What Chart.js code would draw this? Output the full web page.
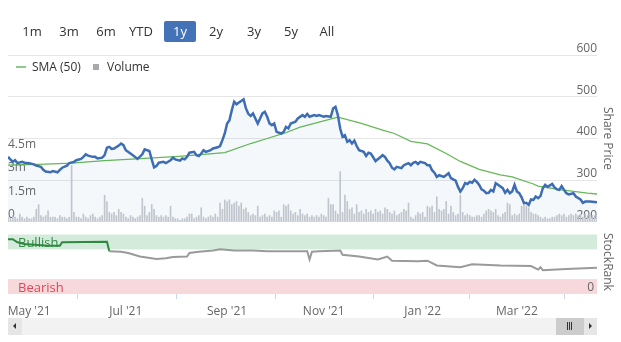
<!DOCTYPE html>
<html><head><meta charset="utf-8">
<script src="https://cdn.jsdelivr.net/npm/chart.js@4/dist/chart.umd.min.js"></script>
<style>
html,body{margin:0;padding:0;background:#fff;}
body{width:621px;height:342px;position:relative;overflow:hidden;font-family:'Open Sans',sans-serif;}
#c{position:absolute;left:0;top:0;}
.btn{position:absolute;top:21px;width:32px;height:21px;line-height:21px;font-size:13px;color:#333;text-align:center;}
.btn.sel{background:#4472b6;color:#fff;border-radius:2px;}
.lt{position:absolute;top:59px;font-size:12px;line-height:16px;color:#333;white-space:nowrap;}
.vt{position:absolute;writing-mode:vertical-rl;font-size:12px;line-height:14px;color:#666;white-space:nowrap;}
.abs{position:absolute;}
</style></head>
<body>
<canvas id="c" width="621" height="342"></canvas>
<div class="btn" style="left:16px">1m</div>
<div class="btn" style="left:53px">3m</div>
<div class="btn" style="left:90px">6m</div>
<div class="btn" style="left:125px">YTD</div>
<div class="btn sel" style="left:164px">1y</div>
<div class="btn" style="left:200px">2y</div>
<div class="btn" style="left:238px">3y</div>
<div class="btn" style="left:275px">5y</div>
<div class="btn" style="left:311px">All</div>
<div class="abs" style="left:16px;top:66px;width:10px;height:2px;background:#8cc98a"></div>
<div class="lt" style="left:32px">SMA (50)</div>
<div class="abs" style="left:93px;top:64px;width:6px;height:6px;background:#a8a8ae"></div>
<div class="lt" style="left:107px">Volume</div>
<div class="vt" style="left:601px;top:107px">Share Price</div>
<div class="vt" style="left:601px;top:233px">StockRank</div>
<div class="abs" style="left:8px;top:318px;width:589px;height:17px;background:#f2f2f2"></div>
<div class="abs" style="left:8px;top:318px;width:14px;height:17px;background:#e6e6e6"></div>
<div class="abs" style="left:13px;top:323px;width:0;height:0;border-top:3px solid transparent;border-bottom:3px solid transparent;border-right:3px solid #333"></div>
<div class="abs" style="left:556px;top:318px;width:28px;height:17px;background:#cccccc"></div>
<div class="abs" style="left:567px;top:322px;width:1px;height:8px;background:#333"></div>
<div class="abs" style="left:569px;top:322px;width:1px;height:8px;background:#333"></div>
<div class="abs" style="left:571px;top:322px;width:1px;height:8px;background:#333"></div>
<div class="abs" style="left:584px;top:318px;width:13px;height:17px;background:#e6e6e6"></div>
<div class="abs" style="left:589px;top:323px;width:0;height:0;border-top:3px solid transparent;border-bottom:3px solid transparent;border-left:3px solid #333"></div>
<script>
// x positions are trading-day numbers over the 1y range (day 0 = late Apr 2021)
const tickDays = [9, 50, 93, 134, 176, 216];
const tickLabels = ["May '21", "Jul '21", "Sep '21", "Nov '21", "Jan '22", "Mar '22"];

const priceDays = [0,2,3,4,6,7,9,11,12,14,15,16,18,19,21,22,23,25,26,28,29,31,32,33,34,36,37,38,40,41,42,43,44,45,47,48,49,50,52,53,55,57,58,60,61,62,63,64,66,67,69,70,71,73,74,75,76,77,79,80,81,82,83,84,86,87,89,90,91,92,93,94,95,96,97,98,99,100,101,102,103,104,105,106,107,108,109,110,111,112,113,114,116,117,118,119,120,122,123,125,126,127,128,130,131,132,134,135,137,138,139,140,141,142,143,144,145,146,147,148,149,151,152,153,154,155,156,158,159,160,161,162,163,164,165,167,168,170,171,172,173,174,175,177,178,179,180,181,182,183,185,187,188,190,191,192,193,194,195,196,197,198,199,200,201,202,203,204,205,206,207,208,210,211,212,213,214,215,216,217,218,219,220,221,222,223,224,225,226,227,228,229,231,232,233,234,235,236,237,238,240,241,243,244,245,247,250];
const price = [356,344,348,341,344,342,341,338,335,332,325,321,319,322,319,325,330,335,341,344,348,351,356,362,359,356,356,352,354,360,378,380,375,376,383,388,384,372,364,360,351,362,374,370,350,331,334,342,344,341,348,354,350,347,352,350,356,366,368,360,358,364,372,368,372,376,379,382,396,412,436,444,468,488,482,486,490,494,472,459,454,460,448,436,448,460,464,452,436,432,436,416,412,416,428,424,436,440,448,456,452,459,452,456,454,456,452,454,452,472,476,456,424,404,408,392,396,388,395,382,372,368,358,366,364,355,346,355,360,356,347,341,330,326,332,329,336,341,336,342,344,339,344,341,336,336,324,318,308,312,308,317,305,299,284,273,281,293,291,296,294,301,296,289,278,275,269,270,277,273,293,289,281,270,277,269,273,289,273,269,259,245,246,241,254,253,261,257,262,281,289,284,291,283,278,277,286,277,269,266,269,261,254,246,249,249,247];

const smaDays = [0,13,27,41,60,74,92,103,110,117,124,140,150,159,164,171,178,186,192,200,209,214,223,225,235,246,250];
const sma = [336,338,341,347,353,358,366,388,400,412,427,451,436,420,412,393,387,364,345,326,313,308,291,286,277,269,267];

// daily volume, millions of shares (day 0 .. 250)
const volume = [0.3,0.2,0.4,0.3,0.2,0.5,0.3,0.2,0.3,0.2,
0.2,0.3,0.8,1.1,0.4,0.3,0.4,0.7,0.3,0.3,
0.3,0.2,0.4,0.3,0.3,0.2,0.3,3.6,0.6,0.3,
0.3,0.2,0.5,0.3,0.2,0.4,0.5,0.3,0.2,0.3,
0.4,1.7,1.3,0.6,0.5,0.6,0.4,0.8,0.6,0.5,
0.3,0.2,0.4,0.3,0.2,0.3,0.4,1.5,1.0,0.4,
0.6,1.1,0.8,0.4,0.3,0.4,0.3,0.4,0.3,1.0,
0.3,0.2,0.2,0.1,0.2,0.2,0.3,0.5,0.5,0.2,
0.3,0.4,0.9,0.3,0.2,0.3,0.4,0.3,0.5,0.3,
1.2,0.8,1.4,1.3,1.4,1.1,1.2,1.3,1.0,1.2,
0.8,0.9,0.6,0.4,0.5,0.4,1.0,0.3,0.4,0.5,
0.3,0.4,0.3,0.7,0.6,0.7,0.3,1.1,1.0,1.1,
0.7,0.5,0.6,0.4,0.8,0.5,0.4,0.5,0.3,0.4,
0.3,0.4,0.3,0.5,0.4,0.3,1.5,1.1,1.1,0.7,
0.5,3.2,0.6,1.7,1.3,0.8,0.9,0.5,1.1,0.6,
0.7,0.5,0.8,0.6,0.7,0.5,0.8,0.6,0.7,0.5,
0.9,0.8,0.6,0.5,0.7,0.4,0.5,0.6,0.8,0.7,
1.2,0.3,0.2,0.4,0.6,0.5,0.6,0.3,1.0,0.9,
1.0,0.6,1.6,0.8,0.7,0.8,1.3,0.5,1.0,0.6,
0.4,0.5,1.7,0.6,0.4,0.5,0.4,0.3,0.3,0.4,
0.4,0.3,0.5,0.7,0.8,0.7,0.6,0.8,0.4,0.3,
0.5,0.6,1.2,1.1,0.4,0.5,0.4,0.5,1.0,1.1,
1.0,0.9,0.6,0.5,0.5,0.4,0.3,0.2,0.3,0.2,
0.2,0.3,0.3,0.4,0.5,0.4,0.5,0.3,0.4,0.5,
0.4,0.5,0.4,0.5,0.3,0.5,0.4,0.5,0.4,0.4,0.5];

const rankDays = [0,2,4,7,17,22,23,42,43,48,51,56,63,67,70,76,77,81,87,90,96,104,110,118,127,128,129,132,141,142,149,157,161,163,174,178,182,192,197,209,222,225,226,227,237,250];
const rank = [92,92,87,84,81,81,87,88,72,71,69,63,59,60,62,63,69,71,73,75,73,73,72,72,72,58,71,72,73,66,63,58,63,56,55,56,48,45,50,48,47,41,45,40,42,44];

const priceTicks = [200, 300, 400, 500, 600];
const volumeTicks = [0, 1.5, 3, 4.5];
const rankTicks = [0];
const bullishBand = [75, 100];
const bearishBand = [0, 25];

Chart.defaults.font.family = "'Open Sans', sans-serif";

const bandsPlugin = {
  id: 'bands',
  beforeDraw(chart) {
    const {ctx, chartArea: a} = chart;
    const r = chart.scales.rank;
    const gTop = r.getPixelForValue(bullishBand[1]), gBot = r.getPixelForValue(bullishBand[0]);
    const rTop = r.getPixelForValue(bearishBand[1]), rBot = r.getPixelForValue(bearishBand[0]);
    ctx.save();
    ctx.fillStyle = '#d4eadb';
    ctx.fillRect(a.left, gTop, a.right - a.left, gBot - gTop);
    ctx.fillStyle = '#f7d9dc';
    ctx.fillRect(a.left, rTop, a.right - a.left, rBot - rTop);
    ctx.font = "13px 'Open Sans', sans-serif";
    ctx.textBaseline = 'middle';
    ctx.fillStyle = '#2f8a42';
    ctx.fillText('Bullish', a.left + 10, (gTop + gBot) / 2 + 1);
    ctx.fillStyle = '#d9485a';
    ctx.fillText('Bearish', a.left + 10, (rTop + rBot) / 2 + 2);
    ctx.restore();
  }
};

const setTicks = arr => s => { s.ticks = arr.map(v => ({value: v})); };
const zeroWidth = s => { s.width = 0; };

new Chart(document.getElementById('c'), {
  type: 'line',
  data: {
    datasets: [
      {type: 'line', label: 'StockRank', data: rankDays.map((d, i) => ({x: d, y: rank[i]})),
       yAxisID: 'rank', borderWidth: 2, pointRadius: 0, borderColor: '#9a9a9a', fill: false,
       segment: {borderColor: c => c.p0.parsed.y >= 76 ? '#2d8a3e' : '#9a9a9a'}, order: 0},
      {type: 'line', label: 'Share Price', data: priceDays.map((d, i) => ({x: d, y: price[i]})),
       yAxisID: 'price', borderColor: '#3d6db5', borderWidth: 2.5, pointRadius: 0,
       fill: {value: 200}, backgroundColor: 'rgba(61,109,181,0.05)', order: 1},
      {type: 'line', label: 'SMA (50)', data: smaDays.map((d, i) => ({x: d, y: sma[i]})),
       yAxisID: 'price', borderColor: '#66b957', borderWidth: 1.3, pointRadius: 0, fill: false, order: 2},
      {type: 'bar', label: 'Volume', data: volume.map((v, i) => ({x: i, y: v})),
       yAxisID: 'vol', backgroundColor: '#c8c9ce', barPercentage: 0.7, categoryPercentage: 1, order: 3}
    ]
  },
  options: {
    responsive: false, animation: false, events: [],
    layout: {padding: {left: 8, right: 24, top: 55, bottom: 24}},
    plugins: {legend: {display: false}, tooltip: {enabled: false}},
    scales: {
      x: {type: 'linear', min: 0, max: 250, position: 'bottom', offset: false,
          afterBuildTicks: setTicks(tickDays), afterFit: s => { s.height = 24; },
          grid: {drawOnChartArea: false, drawTicks: true, tickLength: 5, color: '#ccd6eb'},
          border: {display: false},
          ticks: {autoSkip: false, maxRotation: 0, padding: 5, color: '#666', font: {size: 12},
                  callback: v => tickLabels[tickDays.indexOf(v)]}},
      price: {type: 'linear', position: 'right', min: 27.54, max: 600,
          afterBuildTicks: setTicks(priceTicks), afterFit: zeroWidth,
          grid: {color: '#e6e6e6', drawTicks: false}, border: {display: false},
          ticks: {mirror: true, padding: 0, labelOffset: -6.5, color: '#666', font: {size: 12}}},
      vol: {type: 'linear', position: 'left', min: -4.63, max: 10.63,
          afterBuildTicks: setTicks(volumeTicks), afterFit: zeroWidth,
          grid: {display: false, drawTicks: false}, border: {display: false},
          ticks: {mirror: true, padding: 0, labelOffset: -6.5, color: '#666', font: {size: 12},
                  callback: v => v === 0 ? '0' : v + 'm'}},
      rank: {type: 'linear', position: 'right', min: 0, max: 401.7,
          afterBuildTicks: setTicks(rankTicks), afterFit: zeroWidth,
          grid: {display: false, drawTicks: false}, border: {display: false},
          ticks: {mirror: true, padding: -3, labelOffset: -6, color: '#666', font: {size: 12}}}
    }
  },
  plugins: [bandsPlugin]
});
</script>
</body></html>
